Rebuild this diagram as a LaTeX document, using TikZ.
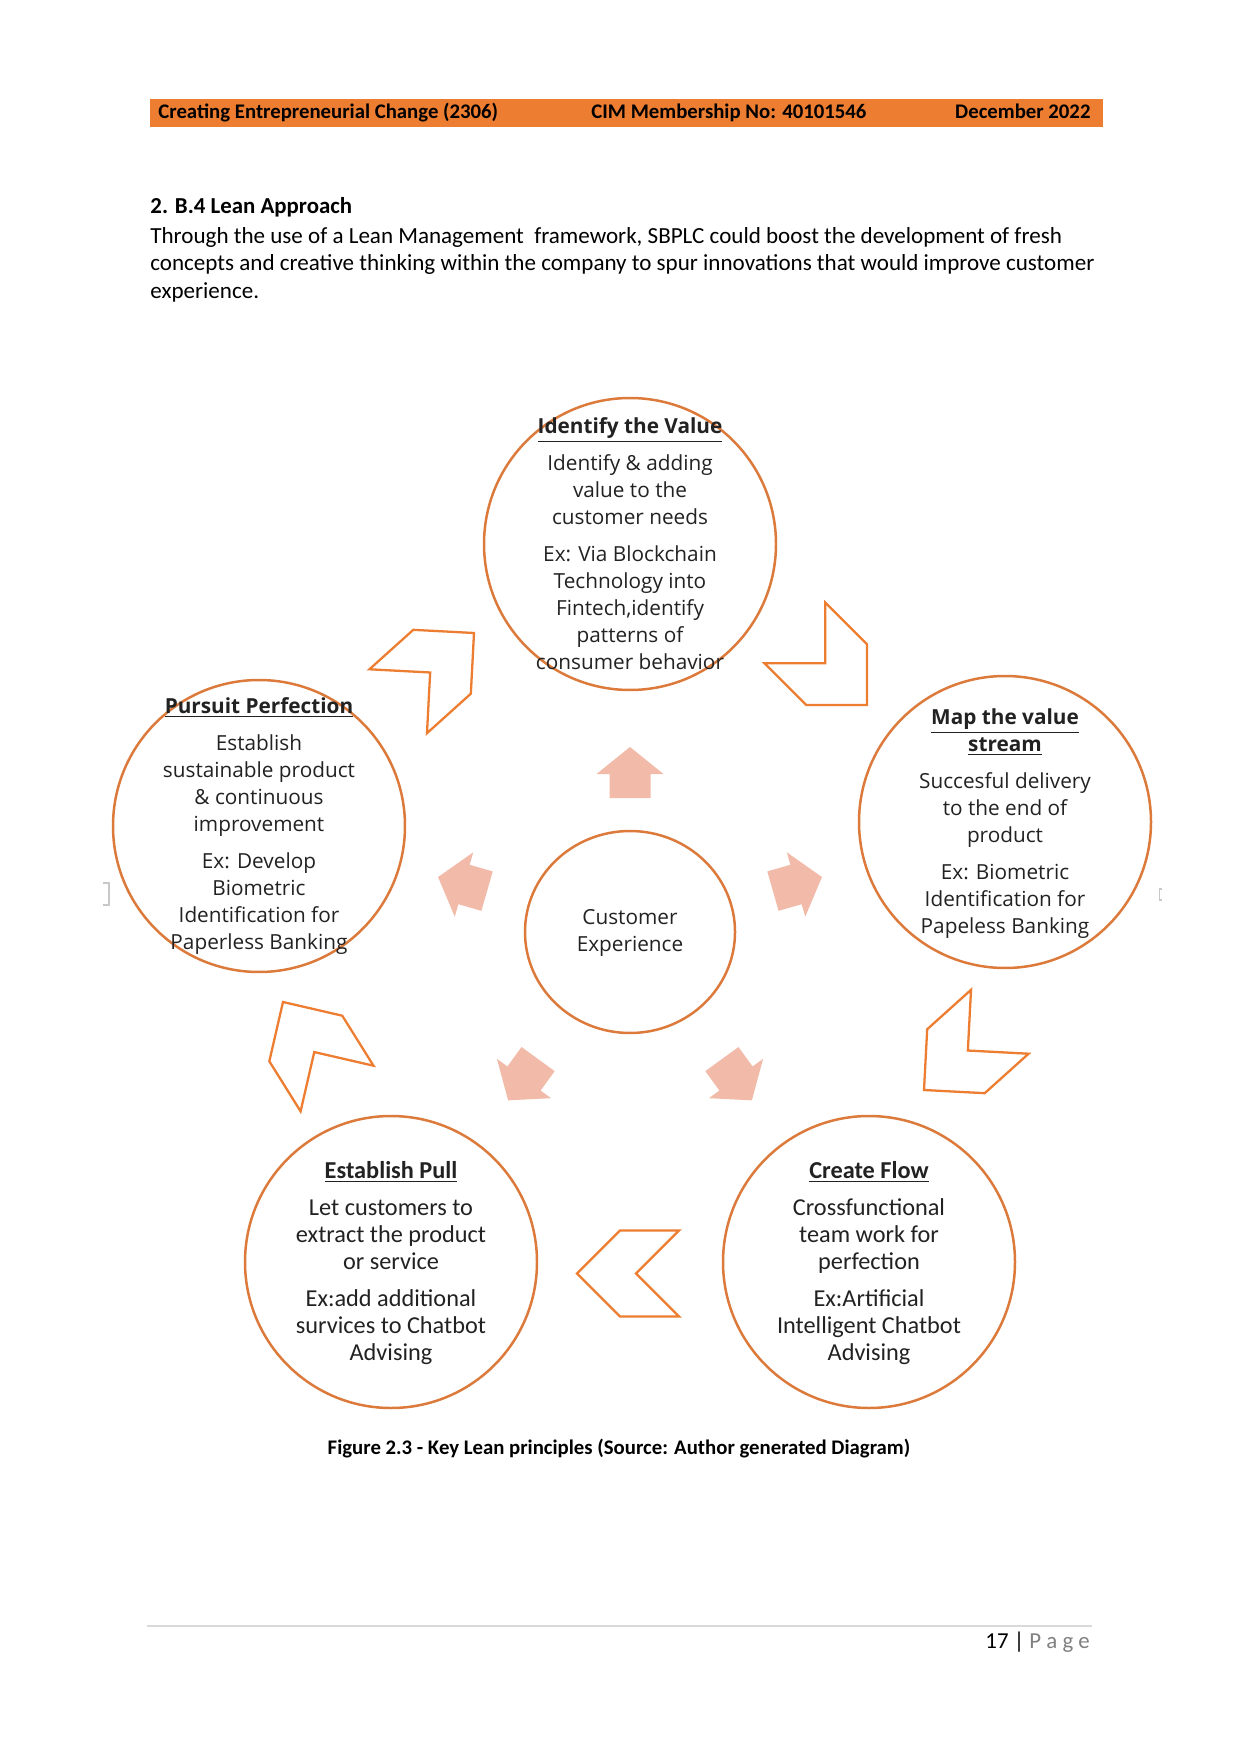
\documentclass[tikz,border=0pt]{standalone}
\usepackage{fontspec}
\setmainfont{Carlito}
\newfontfamily\osans{Open Sans}
\usetikzlibrary{shapes.geometric}
\definecolor{hdr}{HTML}{ED7D31}
\definecolor{ringc}{HTML}{DC7A3C}
\definecolor{chevc}{HTML}{ED7D31}
\definecolor{salmon}{HTML}{F2BBA9}
\definecolor{txt}{HTML}{222222}
\definecolor{rulegray}{HTML}{D9D9D9}
\definecolor{pagegray}{HTML}{808080}
\definecolor{brkgray}{HTML}{C8C8C8}
\tikzset{
  ring/.style={circle, draw=ringc, line width=1.2pt, inner sep=0pt, minimum size=49.41mm},
  hub/.style={ellipse, draw=ringc, line width=1.2pt, inner sep=0pt, minimum width=35.54mm, minimum height=34.18mm},
  ostext/.style={font=\osans\fontsize{10pt}{13pt}\selectfont, text=txt, align=center, inner sep=0pt, anchor=base},
  cbtext/.style={font=\fontsize{11.7pt}{13pt}\selectfont, text=txt, align=center, inner sep=0pt, anchor=base},
  hdtext/.style={font=\bfseries\fontsize{10pt}{12pt}\selectfont, text=black, inner sep=0pt},
  bodytext/.style={font=\fontsize{11.1pt}{13.4pt}\selectfont, text=black, inner sep=0pt, anchor=base west},
  chevline/.style={draw=chevc, line width=1.1pt, line join=miter, fill=white},
  chev/.pic={\path[chevline] (0,0) -- (-43,43) -- (-102,43) -- (-59,0) -- (-102,-43) -- (-43,-43) -- cycle;},
  burst/.pic={\fill[salmon] (-24,20.5) -- (0,20.5) -- (0,33.5) -- (27,0) -- (0,-33.5) -- (0,-20.5) -- (-24,-20.5) -- cycle;},
}
\begin{document}
\begin{tikzpicture}[x=0.16922mm, y=-0.16922mm]
\useasboundingbox[fill=white] (0,0) rectangle (1241,1754);
% header bar
\node[fill=hdr, inner sep=0pt, minimum width=161.27mm, minimum height=4.74mm, anchor=north west] (bar) at (150,98.5) {};
\node[hdtext, anchor=base west] (h1) at (158,119) {Creating Entrepreneurial Change (2306)};
\node[hdtext, anchor=base west] (h2) at (591,119) {CIM Membership No: 40101546};
\node[hdtext, anchor=base east] (h3) at (1091,119) {December 2022};
% section text
\node[bodytext, font=\bfseries\fontsize{11pt}{13.4pt}\selectfont] (sec) at (150,214) {2. B.4 Lean Approach};
\node[bodytext] (p1) at (150,244) {Through the use of a Lean Management~ framework, SBPLC could boost the development of fresh};
\node[bodytext] (p2) at (150,271) {concepts and creative thinking within the company to spur innovations that would improve customer};
\node[bodytext] (p3) at (150,299) {experience.};
% circles
\node[ring] (idv) at (630,544) {};
\node[ring] (map) at (1005,822) {};
\node[ring] (per) at (259,826) {};
\node[ring] (pul) at (391,1262) {};
\node[ring] (flo) at (869,1262) {};
\node[hub] (cx) at (630,932) {};
% chevrons
\pic[rotate=42] at (474,633) {chev};
\pic[rotate=-45] at (867,705) {chev};
\pic[rotate=222] at (924,1090) {chev};
\pic[rotate=180] at (577,1273.5) {chev};
\pic[rotate=122] at (283,1002) {chev};
% radial arrows
\pic[rotate=90] at (630,774) {burst};
\pic[rotate=16] at (796,884.5) {burst};
\pic[rotate=164] at (464,884.5) {burst};
\pic[rotate=234] at (524,1078.5) {burst};
\pic[rotate=306] at (736,1078.5) {burst};
% circle texts (anchor = baseline of last line)
\node[ostext] (idv-t) at (630,669) {\underline{\textbf{Identify the Value}}\\[4.8pt]
  Identify \& adding\\ value to the\\ customer needs\\[4.8pt]
  Ex: Via Blockchain\\ Technology into\\ Fintech,identify\\ patterns of\\ consumer behavior};
\node[ostext] (per-t) at (259,949) {\underline{\textbf{Pursuit Perfection}}\\[4.8pt]
  Establish\\ sustainable product\\ \& continuous\\ improvement\\[4.8pt]
  Ex: Develop\\ Biometric\\ Identification for\\ Paperless Banking};
\node[ostext] (map-t) at (1005,933) {\underline{\textbf{Map the value}}\\ \underline{\textbf{stream}}\\[4.8pt]
  Succesful delivery\\ to the end of\\ product\\[4.8pt]
  Ex: Biometric\\ Identification for\\ Papeless Banking};
\node[cbtext] (pul-t) at (391,1360.5) {\underline{\textbf{Establish Pull}}\\[4.8pt]
  Let customers to\\ extract the product\\ or service\\[4.8pt]
  Ex:add additional\\ survices to Chatbot\\ Advising};
\node[cbtext] (flo-t) at (869,1360.5) {\underline{\textbf{Create Flow}}\\[4.8pt]
  Crossfunctional\\ team work for\\ perfection\\[4.8pt]
  Ex:Artificial\\ Intelligent Chatbot\\ Advising};
\node[ostext] (cx-t) at (630,951.5) {Customer\\ Experience};
% small marks
\draw[brkgray, line width=0.6pt] (103,883) -- (109,883) -- (109,905) -- (103,905);
\draw[brkgray, line width=0.5pt] (1162,889) -- (1159,889) -- (1159,900) -- (1162,900);
% caption
\node[inner sep=0pt, anchor=base, font=\bfseries\fontsize{10pt}{12pt}\selectfont] (cap) at (619,1454) {Figure 2.3 - Key Lean principles (Source: Author generated Diagram)};
% footer
\coordinate (fl) at (147,1626);
\coordinate (fr) at (1092,1626);
\draw[rulegray, line width=0.6pt] (fl) -- (fr);
\node[bodytext, font=\fontsize{11pt}{13.4pt}\selectfont] (pg) at (985,1648) {17 | \textcolor{pagegray}{P a g e}};
\end{tikzpicture}
\end{document}
